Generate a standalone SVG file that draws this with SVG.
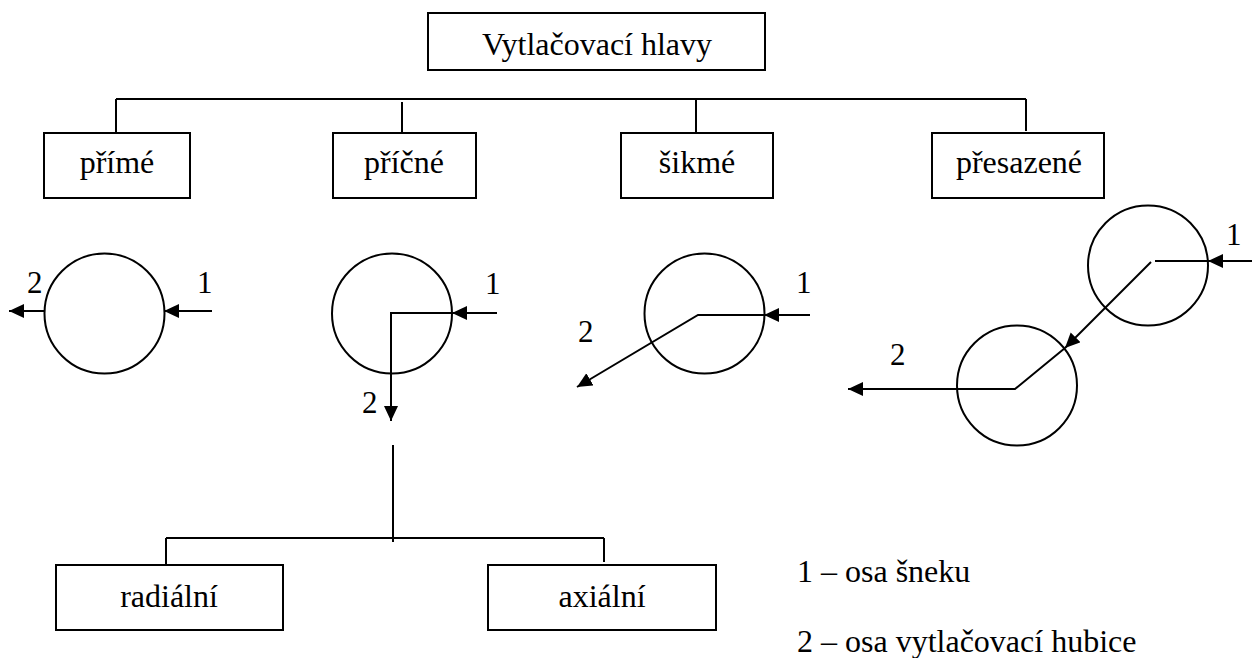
<svg xmlns="http://www.w3.org/2000/svg" width="1252" height="658" viewBox="0 0 1252 658">
<style>
.box{fill:#fff;stroke:#000;stroke-width:2}
.ln{fill:none;stroke:#000;stroke-width:2}
.c{fill:none;stroke:#000;stroke-width:2}
.t{font-family:"Liberation Serif","Times New Roman",serif;font-size:32px;fill:#000}
.n{font-family:"Liberation Serif","Times New Roman",serif;font-size:31px;fill:#000}
.arr{marker-end:url(#ah)}
</style>
<defs>
<marker id="ah" markerUnits="userSpaceOnUse" markerWidth="16" markerHeight="16" refX="15" refY="7" orient="auto">
<path d="M0,0 L15,7 L0,14 z" fill="#000"/>
</marker>
</defs>
<rect width="1252" height="658" fill="#fff"/>
<g id="connectors">
<path class="ln" d="M116,99 H1026 M116,99 V133 M402,102 V133 M696,99 V133 M1026,99 V131"/>
<path class="ln" d="M393,445 V542 M166,538 H604 M166,538 V565 M604,538 V562"/>
</g>
<g id="node-root"><rect class="box" x="428" y="13" width="337" height="57"/><text class="t" x="597" y="55" text-anchor="middle">Vytlačovací hlavy</text></g>
<g id="node-prime"><rect class="box" x="44" y="133" width="146" height="65"/><text class="t" x="117" y="173" text-anchor="middle">přímé</text></g>
<g id="node-pricne"><rect class="box" x="333" y="133" width="143" height="65"/><text class="t" x="404" y="173" text-anchor="middle">příčné</text></g>
<g id="node-sikme"><rect class="box" x="621" y="133" width="152" height="65"/><text class="t" x="697" y="173" text-anchor="middle">šikmé</text></g>
<g id="node-presazene"><rect class="box" x="932" y="133" width="172" height="65"/><text class="t" x="1019" y="173" text-anchor="middle">přesazené</text></g>
<g id="node-radialni"><rect class="box" x="56" y="565" width="227" height="65"/><text class="t" x="169" y="607" text-anchor="middle">radiální</text></g>
<g id="node-axialni"><rect class="box" x="488" y="565" width="228" height="65"/><text class="t" x="602" y="607" text-anchor="middle">axiální</text></g>
<g id="sketch-prime">
<circle class="c" cx="104.5" cy="313.5" r="60"/>
<line class="ln arr" x1="212" y1="311" x2="164" y2="311"/>
<line class="ln arr" x1="45" y1="311" x2="9" y2="311"/>
<text class="n" x="197" y="293">1</text>
<text class="n" x="27" y="293">2</text>
</g>
<g id="sketch-pricne">
<circle class="c" cx="392" cy="313.5" r="60"/>
<line class="ln arr" x1="497" y1="313" x2="452" y2="313"/>
<path class="ln arr" d="M452,313 H391 V421"/>
<text class="n" x="485" y="294">1</text>
<text class="n" x="362" y="413">2</text>
</g>
<g id="sketch-sikme">
<circle class="c" cx="704.5" cy="313.5" r="60"/>
<line class="ln arr" x1="810" y1="315" x2="764" y2="315"/>
<path class="ln arr" d="M764,315 H698 L577,387"/>
<text class="n" x="796" y="293">1</text>
<text class="n" x="578" y="342">2</text>
</g>
<g id="sketch-presazene">
<circle class="c" cx="1148" cy="265.5" r="60"/>
<circle class="c" cx="1017" cy="385.5" r="60"/>
<line class="ln arr" x1="1252" y1="261" x2="1208" y2="261"/>
<line class="ln" x1="1208" y1="261" x2="1155" y2="261"/>
<line class="ln arr" x1="1151" y1="262" x2="1065" y2="348"/>
<path class="ln arr" d="M1065,348 L1015,389 H848"/>
<text class="n" x="1226" y="245">1</text>
<text class="n" x="890" y="365">2</text>
</g>
<g id="legend">
<text class="t" x="797" y="582">1 – osa šneku</text>
<text class="t" x="797" y="652">2 – osa vytlačovací hubice</text>
</g>
</svg>
